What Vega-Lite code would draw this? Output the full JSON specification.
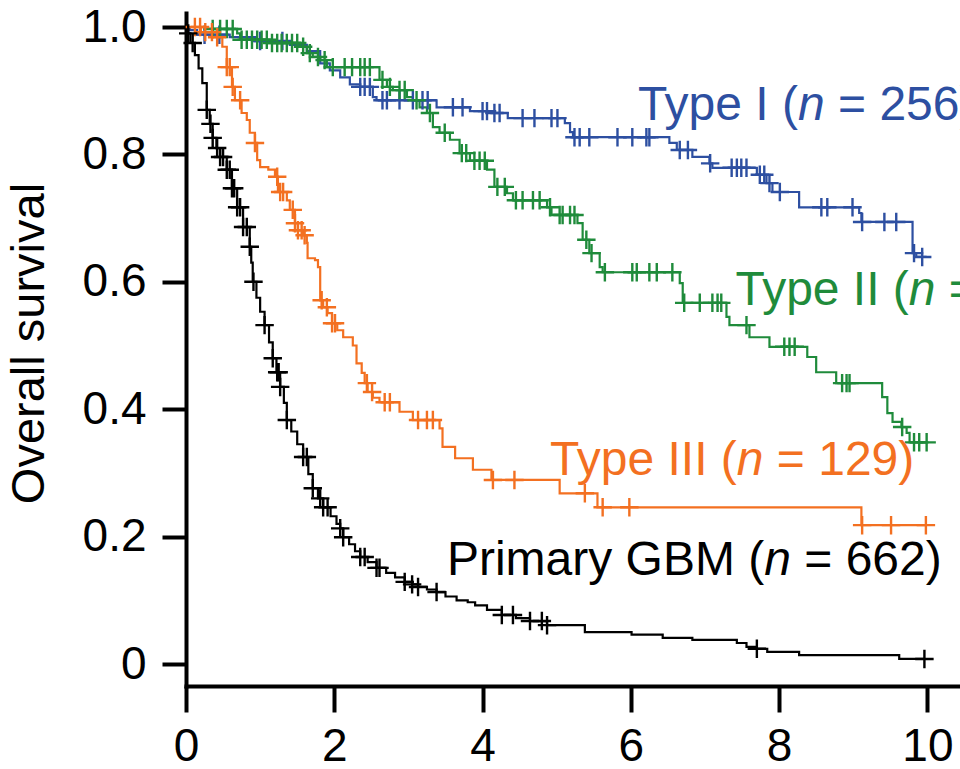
{
  "$schema": "https://vega.github.io/schema/vega-lite/v6.json",
  "width": 774,
  "height": 673,
  "autosize": {"type": "none"},
  "padding": {"left": 186, "top": 13, "right": 0, "bottom": 83},
  "config": {"view": {"stroke": null}, "font": "Liberation Sans"},
  "datasets": {
    "curves": [
      {"g":"Type I","t":0,"s":1.0},{"g":"Type I","t":0.05,"s":0.995},{"g":"Type I","t":0.15,"s":0.988},{"g":"Type I","t":0.59,"s":0.984},{"g":"Type I","t":0.93,"s":0.978},{"g":"Type I","t":1.40,"s":0.972},{"g":"Type I","t":1.63,"s":0.962},{"g":"Type I","t":1.81,"s":0.943},{"g":"Type I","t":1.94,"s":0.932},{"g":"Type I","t":2.08,"s":0.921},{"g":"Type I","t":2.21,"s":0.91},{"g":"Type I","t":2.35,"s":0.906},{"g":"Type I","t":2.52,"s":0.89},{"g":"Type I","t":2.57,"s":0.885},{"g":"Type I","t":3.38,"s":0.874},{"g":"Type I","t":3.83,"s":0.868},{"g":"Type I","t":4.10,"s":0.865},{"g":"Type I","t":4.34,"s":0.857},{"g":"Type I","t":5.11,"s":0.849},{"g":"Type I","t":5.18,"s":0.835},{"g":"Type I","t":5.22,"s":0.827},{"g":"Type I","t":6.52,"s":0.818},{"g":"Type I","t":6.62,"s":0.807},{"g":"Type I","t":6.83,"s":0.796},{"g":"Type I","t":7.06,"s":0.786},{"g":"Type I","t":7.10,"s":0.779},{"g":"Type I","t":7.70,"s":0.768},{"g":"Type I","t":7.83,"s":0.755},{"g":"Type I","t":7.91,"s":0.741},{"g":"Type I","t":8.27,"s":0.717},{"g":"Type I","t":9.08,"s":0.708},{"g":"Type I","t":9.11,"s":0.694},{"g":"Type I","t":9.80,"s":0.645},{"g":"Type I","t":9.85,"s":0.639},{"g":"Type I","t":9.99,"s":0.639},
      {"g":"Type II","t":0,"s":1.0},{"g":"Type II","t":0.26,"s":0.997},{"g":"Type II","t":0.69,"s":0.99},{"g":"Type II","t":0.73,"s":0.98},{"g":"Type II","t":1.13,"s":0.975},{"g":"Type II","t":1.54,"s":0.969},{"g":"Type II","t":1.63,"s":0.959},{"g":"Type II","t":1.71,"s":0.953},{"g":"Type II","t":1.81,"s":0.948},{"g":"Type II","t":1.90,"s":0.937},{"g":"Type II","t":2.61,"s":0.917},{"g":"Type II","t":2.71,"s":0.906},{"g":"Type II","t":2.79,"s":0.901},{"g":"Type II","t":2.98,"s":0.89},{"g":"Type II","t":3.06,"s":0.885},{"g":"Type II","t":3.15,"s":0.874},{"g":"Type II","t":3.25,"s":0.865},{"g":"Type II","t":3.33,"s":0.843},{"g":"Type II","t":3.42,"s":0.834},{"g":"Type II","t":3.56,"s":0.823},{"g":"Type II","t":3.69,"s":0.802},{"g":"Type II","t":3.83,"s":0.79},{"g":"Type II","t":4.06,"s":0.776},{"g":"Type II","t":4.16,"s":0.749},{"g":"Type II","t":4.33,"s":0.739},{"g":"Type II","t":4.41,"s":0.728},{"g":"Type II","t":4.87,"s":0.717},{"g":"Type II","t":4.93,"s":0.705},{"g":"Type II","t":5.28,"s":0.692},{"g":"Type II","t":5.35,"s":0.666},{"g":"Type II","t":5.44,"s":0.645},{"g":"Type II","t":5.58,"s":0.623},{"g":"Type II","t":5.62,"s":0.615},{"g":"Type II","t":6.66,"s":0.598},{"g":"Type II","t":6.70,"s":0.567},{"g":"Type II","t":7.29,"s":0.545},{"g":"Type II","t":7.33,"s":0.532},{"g":"Type II","t":7.60,"s":0.513},{"g":"Type II","t":7.87,"s":0.498},{"g":"Type II","t":8.38,"s":0.482},{"g":"Type II","t":8.50,"s":0.458},{"g":"Type II","t":8.77,"s":0.441},{"g":"Type II","t":9.39,"s":0.419},{"g":"Type II","t":9.46,"s":0.394},{"g":"Type II","t":9.53,"s":0.38},{"g":"Type II","t":9.65,"s":0.372},{"g":"Type II","t":9.72,"s":0.363},{"g":"Type II","t":9.76,"s":0.348},{"g":"Type II","t":9.99,"s":0.348},
      {"g":"Type III","t":0,"s":1.0},{"g":"Type III","t":0.2,"s":0.992},{"g":"Type III","t":0.36,"s":0.984},{"g":"Type III","t":0.49,"s":0.969},{"g":"Type III","t":0.55,"s":0.937},{"g":"Type III","t":0.62,"s":0.906},{"g":"Type III","t":0.66,"s":0.885},{"g":"Type III","t":0.75,"s":0.865},{"g":"Type III","t":0.82,"s":0.854},{"g":"Type III","t":0.86,"s":0.834},{"g":"Type III","t":0.93,"s":0.818},{"g":"Type III","t":0.96,"s":0.791},{"g":"Type III","t":1.0,"s":0.78},{"g":"Type III","t":1.11,"s":0.776},{"g":"Type III","t":1.20,"s":0.765},{"g":"Type III","t":1.24,"s":0.741},{"g":"Type III","t":1.36,"s":0.728},{"g":"Type III","t":1.40,"s":0.713},{"g":"Type III","t":1.47,"s":0.692},{"g":"Type III","t":1.51,"s":0.681},{"g":"Type III","t":1.58,"s":0.673},{"g":"Type III","t":1.63,"s":0.661},{"g":"Type III","t":1.64,"s":0.637},{"g":"Type III","t":1.74,"s":0.634},{"g":"Type III","t":1.78,"s":0.623},{"g":"Type III","t":1.81,"s":0.571},{"g":"Type III","t":1.85,"s":0.56},{"g":"Type III","t":1.91,"s":0.551},{"g":"Type III","t":1.97,"s":0.535},{"g":"Type III","t":2.04,"s":0.524},{"g":"Type III","t":2.12,"s":0.513},{"g":"Type III","t":2.25,"s":0.50},{"g":"Type III","t":2.30,"s":0.472},{"g":"Type III","t":2.37,"s":0.457},{"g":"Type III","t":2.41,"s":0.441},{"g":"Type III","t":2.45,"s":0.427},{"g":"Type III","t":2.52,"s":0.418},{"g":"Type III","t":2.61,"s":0.411},{"g":"Type III","t":2.88,"s":0.396},{"g":"Type III","t":3.06,"s":0.383},{"g":"Type III","t":3.42,"s":0.370},{"g":"Type III","t":3.46,"s":0.341},{"g":"Type III","t":3.63,"s":0.323},{"g":"Type III","t":3.87,"s":0.305},{"g":"Type III","t":4.12,"s":0.289},{"g":"Type III","t":5.04,"s":0.268},{"g":"Type III","t":5.55,"s":0.246},{"g":"Type III","t":9.11,"s":0.218},{"g":"Type III","t":9.99,"s":0.218},
      {"g":"Primary GBM","t":0,"s":1.0},{"g":"Primary GBM","t":0.03,"s":0.99},{"g":"Primary GBM","t":0.06,"s":0.975},{"g":"Primary GBM","t":0.12,"s":0.956},{"g":"Primary GBM","t":0.17,"s":0.935},{"g":"Primary GBM","t":0.22,"s":0.912},{"g":"Primary GBM","t":0.28,"s":0.87},{"g":"Primary GBM","t":0.32,"s":0.848},{"g":"Primary GBM","t":0.36,"s":0.826},{"g":"Primary GBM","t":0.41,"s":0.81},{"g":"Primary GBM","t":0.46,"s":0.796},{"g":"Primary GBM","t":0.55,"s":0.776},{"g":"Primary GBM","t":0.62,"s":0.747},{"g":"Primary GBM","t":0.69,"s":0.717},{"g":"Primary GBM","t":0.77,"s":0.686},{"g":"Primary GBM","t":0.86,"s":0.655},{"g":"Primary GBM","t":0.88,"s":0.63},{"g":"Primary GBM","t":0.90,"s":0.60},{"g":"Primary GBM","t":0.95,"s":0.575},{"g":"Primary GBM","t":1.0,"s":0.553},{"g":"Primary GBM","t":1.06,"s":0.532},{"g":"Primary GBM","t":1.12,"s":0.505},{"g":"Primary GBM","t":1.17,"s":0.48},{"g":"Primary GBM","t":1.22,"s":0.458},{"g":"Primary GBM","t":1.27,"s":0.435},{"g":"Primary GBM","t":1.32,"s":0.41},{"g":"Primary GBM","t":1.36,"s":0.383},{"g":"Primary GBM","t":1.42,"s":0.365},{"g":"Primary GBM","t":1.5,"s":0.345},{"g":"Primary GBM","t":1.58,"s":0.325},{"g":"Primary GBM","t":1.65,"s":0.298},{"g":"Primary GBM","t":1.71,"s":0.276},{"g":"Primary GBM","t":1.78,"s":0.26},{"g":"Primary GBM","t":1.85,"s":0.246},{"g":"Primary GBM","t":1.95,"s":0.232},{"g":"Primary GBM","t":2.03,"s":0.22},{"g":"Primary GBM","t":2.08,"s":0.213},{"g":"Primary GBM","t":2.12,"s":0.199},{"g":"Primary GBM","t":2.2,"s":0.188},{"g":"Primary GBM","t":2.28,"s":0.177},{"g":"Primary GBM","t":2.35,"s":0.168},{"g":"Primary GBM","t":2.45,"s":0.16},{"g":"Primary GBM","t":2.57,"s":0.151},{"g":"Primary GBM","t":2.7,"s":0.143},{"g":"Primary GBM","t":2.82,"s":0.136},{"g":"Primary GBM","t":2.95,"s":0.129},{"g":"Primary GBM","t":3.05,"s":0.125},{"g":"Primary GBM","t":3.13,"s":0.121},{"g":"Primary GBM","t":3.25,"s":0.117},{"g":"Primary GBM","t":3.38,"s":0.113},{"g":"Primary GBM","t":3.5,"s":0.106},{"g":"Primary GBM","t":3.65,"s":0.10},{"g":"Primary GBM","t":3.8,"s":0.097},{"g":"Primary GBM","t":3.9,"s":0.092},{"g":"Primary GBM","t":4.06,"s":0.085},{"g":"Primary GBM","t":4.26,"s":0.077},{"g":"Primary GBM","t":4.45,"s":0.072},{"g":"Primary GBM","t":4.64,"s":0.0675},{"g":"Primary GBM","t":4.87,"s":0.061},{"g":"Primary GBM","t":5.38,"s":0.050},{"g":"Primary GBM","t":6.01,"s":0.046},{"g":"Primary GBM","t":6.43,"s":0.041},{"g":"Primary GBM","t":6.83,"s":0.038},{"g":"Primary GBM","t":7.43,"s":0.033},{"g":"Primary GBM","t":7.56,"s":0.027},{"g":"Primary GBM","t":7.70,"s":0.024},{"g":"Primary GBM","t":7.84,"s":0.019},{"g":"Primary GBM","t":8.27,"s":0.014},{"g":"Primary GBM","t":9.62,"s":0.008},{"g":"Primary GBM","t":9.97,"s":0.008}
    ],
    "censors": [
      {"g":"Type I","t":0.25,"s":0.988},{"g":"Type I","t":0.45,"s":0.988},{"g":"Type I","t":1.0,"s":0.978},{"g":"Type I","t":1.3,"s":0.978},{"g":"Type I","t":2.35,"s":0.906},{"g":"Type I","t":2.41,"s":0.906},{"g":"Type I","t":2.48,"s":0.906},{"g":"Type I","t":2.65,"s":0.885},{"g":"Type I","t":2.71,"s":0.885},{"g":"Type I","t":2.88,"s":0.885},{"g":"Type I","t":3.06,"s":0.885},{"g":"Type I","t":3.19,"s":0.885},{"g":"Type I","t":3.26,"s":0.885},{"g":"Type I","t":3.60,"s":0.874},{"g":"Type I","t":3.73,"s":0.874},{"g":"Type I","t":4.00,"s":0.868},{"g":"Type I","t":4.06,"s":0.868},{"g":"Type I","t":4.16,"s":0.865},{"g":"Type I","t":4.23,"s":0.865},{"g":"Type I","t":4.54,"s":0.857},{"g":"Type I","t":4.70,"s":0.857},{"g":"Type I","t":4.93,"s":0.857},{"g":"Type I","t":5.01,"s":0.857},{"g":"Type I","t":5.24,"s":0.827},{"g":"Type I","t":5.31,"s":0.827},{"g":"Type I","t":5.44,"s":0.827},{"g":"Type I","t":5.82,"s":0.827},{"g":"Type I","t":6.02,"s":0.827},{"g":"Type I","t":6.21,"s":0.827},{"g":"Type I","t":6.25,"s":0.827},{"g":"Type I","t":6.66,"s":0.807},{"g":"Type I","t":6.77,"s":0.807},{"g":"Type I","t":7.07,"s":0.786},{"g":"Type I","t":7.36,"s":0.779},{"g":"Type I","t":7.43,"s":0.779},{"g":"Type I","t":7.49,"s":0.779},{"g":"Type I","t":7.56,"s":0.779},{"g":"Type I","t":7.74,"s":0.768},{"g":"Type I","t":7.80,"s":0.768},{"g":"Type I","t":7.87,"s":0.755},{"g":"Type I","t":8.01,"s":0.741},{"g":"Type I","t":8.57,"s":0.717},{"g":"Type I","t":8.65,"s":0.717},{"g":"Type I","t":8.99,"s":0.717},{"g":"Type I","t":9.12,"s":0.694},{"g":"Type I","t":9.42,"s":0.694},{"g":"Type I","t":9.58,"s":0.694},{"g":"Type I","t":9.82,"s":0.645},{"g":"Type I","t":9.93,"s":0.639},
      {"g":"Type II","t":0.36,"s":0.997},{"g":"Type II","t":0.46,"s":0.997},{"g":"Type II","t":0.55,"s":0.997},{"g":"Type II","t":0.63,"s":0.997},{"g":"Type II","t":0.75,"s":0.98},{"g":"Type II","t":0.82,"s":0.98},{"g":"Type II","t":0.89,"s":0.98},{"g":"Type II","t":0.96,"s":0.98},{"g":"Type II","t":1.02,"s":0.98},{"g":"Type II","t":1.09,"s":0.98},{"g":"Type II","t":1.16,"s":0.975},{"g":"Type II","t":1.23,"s":0.975},{"g":"Type II","t":1.29,"s":0.975},{"g":"Type II","t":1.36,"s":0.975},{"g":"Type II","t":1.43,"s":0.975},{"g":"Type II","t":1.50,"s":0.975},{"g":"Type II","t":1.58,"s":0.969},{"g":"Type II","t":1.67,"s":0.959},{"g":"Type II","t":1.78,"s":0.953},{"g":"Type II","t":1.87,"s":0.948},{"g":"Type II","t":1.98,"s":0.937},{"g":"Type II","t":2.14,"s":0.937},{"g":"Type II","t":2.24,"s":0.937},{"g":"Type II","t":2.35,"s":0.937},{"g":"Type II","t":2.41,"s":0.937},{"g":"Type II","t":2.48,"s":0.937},{"g":"Type II","t":2.65,"s":0.917},{"g":"Type II","t":2.75,"s":0.906},{"g":"Type II","t":2.88,"s":0.901},{"g":"Type II","t":2.95,"s":0.901},{"g":"Type II","t":3.11,"s":0.885},{"g":"Type II","t":3.29,"s":0.865},{"g":"Type II","t":3.49,"s":0.834},{"g":"Type II","t":3.72,"s":0.802},{"g":"Type II","t":3.78,"s":0.802},{"g":"Type II","t":3.89,"s":0.79},{"g":"Type II","t":3.96,"s":0.79},{"g":"Type II","t":4.03,"s":0.79},{"g":"Type II","t":4.20,"s":0.749},{"g":"Type II","t":4.30,"s":0.749},{"g":"Type II","t":4.45,"s":0.728},{"g":"Type II","t":4.54,"s":0.728},{"g":"Type II","t":4.68,"s":0.728},{"g":"Type II","t":4.77,"s":0.728},{"g":"Type II","t":4.91,"s":0.717},{"g":"Type II","t":5.04,"s":0.705},{"g":"Type II","t":5.08,"s":0.705},{"g":"Type II","t":5.18,"s":0.705},{"g":"Type II","t":5.24,"s":0.705},{"g":"Type II","t":5.40,"s":0.666},{"g":"Type II","t":5.47,"s":0.645},{"g":"Type II","t":5.65,"s":0.615},{"g":"Type II","t":6.02,"s":0.615},{"g":"Type II","t":6.08,"s":0.615},{"g":"Type II","t":6.25,"s":0.615},{"g":"Type II","t":6.35,"s":0.615},{"g":"Type II","t":6.56,"s":0.615},{"g":"Type II","t":6.72,"s":0.567},{"g":"Type II","t":6.93,"s":0.567},{"g":"Type II","t":7.10,"s":0.567},{"g":"Type II","t":7.17,"s":0.567},{"g":"Type II","t":7.22,"s":0.567},{"g":"Type II","t":7.56,"s":0.532},{"g":"Type II","t":8.07,"s":0.498},{"g":"Type II","t":8.14,"s":0.498},{"g":"Type II","t":8.21,"s":0.498},{"g":"Type II","t":8.85,"s":0.441},{"g":"Type II","t":8.91,"s":0.441},{"g":"Type II","t":8.95,"s":0.441},{"g":"Type II","t":9.66,"s":0.372},{"g":"Type II","t":9.82,"s":0.348},{"g":"Type II","t":9.89,"s":0.348},{"g":"Type II","t":9.99,"s":0.348},
      {"g":"Type III","t":0.12,"s":1.0},{"g":"Type III","t":0.19,"s":1.0},{"g":"Type III","t":0.26,"s":0.992},{"g":"Type III","t":0.35,"s":0.992},{"g":"Type III","t":0.42,"s":0.984},{"g":"Type III","t":0.55,"s":0.937},{"g":"Type III","t":0.59,"s":0.937},{"g":"Type III","t":0.63,"s":0.906},{"g":"Type III","t":0.73,"s":0.885},{"g":"Type III","t":0.93,"s":0.818},{"g":"Type III","t":1.23,"s":0.765},{"g":"Type III","t":1.27,"s":0.741},{"g":"Type III","t":1.31,"s":0.741},{"g":"Type III","t":1.44,"s":0.713},{"g":"Type III","t":1.47,"s":0.692},{"g":"Type III","t":1.51,"s":0.681},{"g":"Type III","t":1.56,"s":0.681},{"g":"Type III","t":1.60,"s":0.673},{"g":"Type III","t":1.83,"s":0.571},{"g":"Type III","t":1.90,"s":0.56},{"g":"Type III","t":1.97,"s":0.535},{"g":"Type III","t":2.01,"s":0.535},{"g":"Type III","t":2.44,"s":0.441},{"g":"Type III","t":2.51,"s":0.427},{"g":"Type III","t":2.68,"s":0.411},{"g":"Type III","t":2.75,"s":0.411},{"g":"Type III","t":3.13,"s":0.383},{"g":"Type III","t":3.25,"s":0.383},{"g":"Type III","t":3.33,"s":0.383},{"g":"Type III","t":4.14,"s":0.289},{"g":"Type III","t":4.43,"s":0.289},{"g":"Type III","t":5.38,"s":0.268},{"g":"Type III","t":5.62,"s":0.246},{"g":"Type III","t":5.98,"s":0.246},{"g":"Type III","t":9.12,"s":0.218},{"g":"Type III","t":9.51,"s":0.218},{"g":"Type III","t":9.98,"s":0.218},
      {"g":"Primary GBM","t":0.03,"s":0.99},{"g":"Primary GBM","t":0.09,"s":0.975},{"g":"Primary GBM","t":0.28,"s":0.87},{"g":"Primary GBM","t":0.33,"s":0.848},{"g":"Primary GBM","t":0.36,"s":0.826},{"g":"Primary GBM","t":0.42,"s":0.81},{"g":"Primary GBM","t":0.46,"s":0.796},{"g":"Primary GBM","t":0.50,"s":0.796},{"g":"Primary GBM","t":0.55,"s":0.776},{"g":"Primary GBM","t":0.59,"s":0.776},{"g":"Primary GBM","t":0.62,"s":0.747},{"g":"Primary GBM","t":0.65,"s":0.747},{"g":"Primary GBM","t":0.69,"s":0.717},{"g":"Primary GBM","t":0.73,"s":0.717},{"g":"Primary GBM","t":0.77,"s":0.686},{"g":"Primary GBM","t":0.82,"s":0.686},{"g":"Primary GBM","t":0.86,"s":0.655},{"g":"Primary GBM","t":0.91,"s":0.60},{"g":"Primary GBM","t":1.06,"s":0.532},{"g":"Primary GBM","t":1.17,"s":0.48},{"g":"Primary GBM","t":1.23,"s":0.458},{"g":"Primary GBM","t":1.25,"s":0.458},{"g":"Primary GBM","t":1.27,"s":0.435},{"g":"Primary GBM","t":1.36,"s":0.383},{"g":"Primary GBM","t":1.58,"s":0.325},{"g":"Primary GBM","t":1.63,"s":0.325},{"g":"Primary GBM","t":1.71,"s":0.276},{"g":"Primary GBM","t":1.81,"s":0.26},{"g":"Primary GBM","t":1.85,"s":0.246},{"g":"Primary GBM","t":1.91,"s":0.246},{"g":"Primary GBM","t":2.08,"s":0.213},{"g":"Primary GBM","t":2.12,"s":0.199},{"g":"Primary GBM","t":2.35,"s":0.168},{"g":"Primary GBM","t":2.41,"s":0.168},{"g":"Primary GBM","t":2.57,"s":0.151},{"g":"Primary GBM","t":2.61,"s":0.151},{"g":"Primary GBM","t":2.95,"s":0.129},{"g":"Primary GBM","t":3.05,"s":0.125},{"g":"Primary GBM","t":3.13,"s":0.121},{"g":"Primary GBM","t":3.38,"s":0.113},{"g":"Primary GBM","t":4.26,"s":0.077},{"g":"Primary GBM","t":4.41,"s":0.077},{"g":"Primary GBM","t":4.64,"s":0.0675},{"g":"Primary GBM","t":4.80,"s":0.0675},{"g":"Primary GBM","t":4.87,"s":0.061},{"g":"Primary GBM","t":7.70,"s":0.024},{"g":"Primary GBM","t":9.96,"s":0.008}
    ],
    "labels": [
      {"g":"Type I","t":8.255,"s":0.854,"pre":"Type I (","suf":"= 256)"},
      {"g":"Type II","t":9.75,"s":0.5636,"pre":"Type II (","suf":"= 260)"},
      {"g":"Type III","t":7.43,"s":0.2967,"pre":"Type III (","suf":"= 129)"},
      {"g":"Primary GBM","t":7.80,"s":0.1397,"pre":"Primary GBM (","suf":"= 662)"}
    ]
  },
  "encoding": {
    "x": {
      "field": "t", "type": "quantitative",
      "scale": {"domain": [0, 10.44], "nice": false, "zero": false},
      "axis": {"values": [0, 2, 4, 6, 8, 10], "title": null, "grid": false, "labelFontSize": 46, "labelColor": "#000", "labelPadding": 12, "tickSize": 26, "tickWidth": 4, "tickColor": "#000", "domainWidth": 4, "domainColor": "#000", "domainCap": "square", "labelFlush": false, "labelOverlap": false}
    },
    "y": {
      "field": "s", "type": "quantitative",
      "scale": {"domain": [-0.0345, 1.022], "nice": false, "zero": false},
      "axis": {"values": [0, 0.2, 0.4, 0.6, 0.8, 1], "labelExpr": "datum.value == 0 ? '0' : format(datum.value, '.1f')", "grid": false, "labelFontSize": 46, "labelColor": "#000", "labelPadding": 16, "tickSize": 24, "tickWidth": 4, "tickColor": "#000", "domainWidth": 4, "domainColor": "#000", "domainCap": "square", "labelOverlap": false, "title": "Overall survival", "titleFontSize": 47, "titleFontWeight": "normal", "titleColor": "#000", "titleAngle": -90, "titleX": -157, "titleY": 330, "titleAlign": "center", "titleBaseline": "middle"}
    }
  },
  "layer": [
    {
      "data": {"name": "curves"},
      "mark": {"type": "line", "interpolate": "step-after", "strokeWidth": 2.2, "clip": true},
      "encoding": {
        "color": {"field": "g", "type": "nominal", "scale": {"domain": ["Type I", "Type II", "Type III", "Primary GBM"], "range": ["#2d4fa1", "#1f8b3b", "#f37021", "#000000"]}, "legend": null}
      }
    },
    {
      "data": {"name": "censors"},
      "mark": {"type": "point", "shape": "M-1,0H1M0,-1V1", "filled": false, "size": 340, "strokeWidth": 2.4, "opacity": 1},
      "encoding": {
        "color": {"field": "g", "type": "nominal", "legend": null}
      }
    },
    {
      "data": {"name": "labels"},
      "mark": {"type": "text", "align": "right", "baseline": "alphabetic", "fontSize": 48},
      "encoding": {
        "text": {"field": "pre"},
        "color": {"field": "g", "type": "nominal", "legend": null}
      }
    },
    {
      "data": {"name": "labels"},
      "mark": {"type": "text", "align": "left", "baseline": "alphabetic", "fontSize": 48, "fontStyle": "italic", "text": "n"},
      "encoding": {
        "color": {"field": "g", "type": "nominal", "legend": null}
      }
    },
    {
      "data": {"name": "labels"},
      "mark": {"type": "text", "align": "left", "baseline": "alphabetic", "fontSize": 48, "dx": 40},
      "encoding": {
        "text": {"field": "suf"},
        "color": {"field": "g", "type": "nominal", "legend": null}
      }
    }
  ]
}
